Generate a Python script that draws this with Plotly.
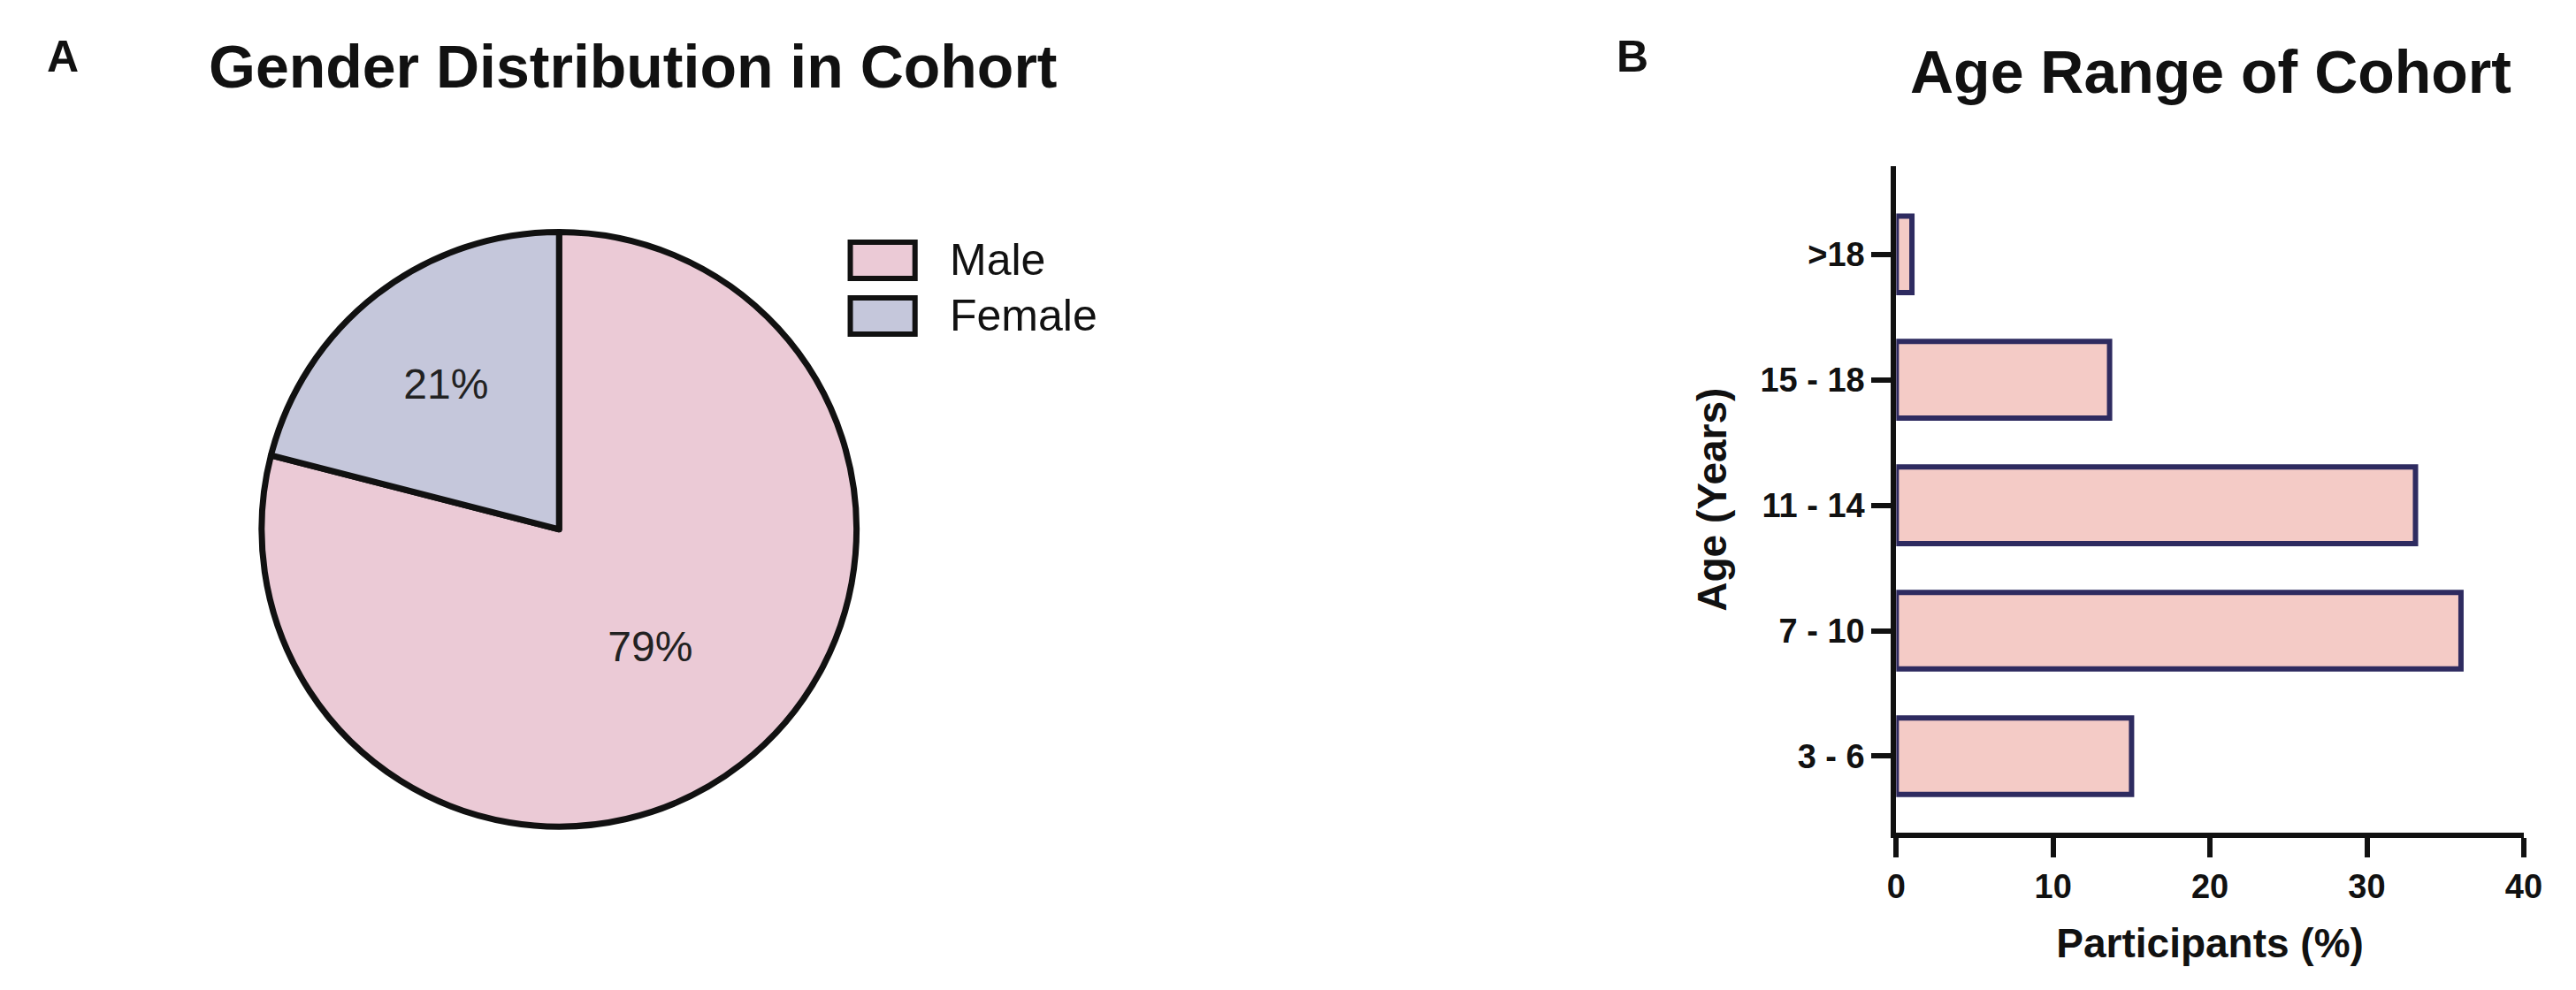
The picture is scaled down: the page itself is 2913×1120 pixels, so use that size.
import plotly.graph_objects as go

genders = ["Male", "Female"]
gender_pct = [79, 21]
gender_colors = ["#EBCAD6", "#C5C7DB"]
age_groups = ["3 - 6", "7 - 10", "11 - 14", "15 - 18", ">18"]
age_pct = [15.0, 36.0, 33.1, 13.6, 1.0]
x_ticks = [0, 10, 20, 30, 40]

FONT = "Liberation Sans, Arial, sans-serif"
W, H = 2913, 1120
fig = go.Figure()
fig.add_trace(go.Pie(
    labels=genders, values=gender_pct, sort=False, direction="clockwise", rotation=0,
    marker=dict(colors=gender_colors, line=dict(color="#111111", width=7)),
    texttemplate="%{percent:.0%}", textposition="inside", insidetextorientation="horizontal",
    textfont=dict(family=FONT, size=48, color="#222222"),
    domain=dict(x=[0.0961, 0.3296], y=[0.169, 0.776]), showlegend=False,
))
fig.add_trace(go.Bar(
    y=age_groups, x=age_pct, orientation="h", width=0.61,
    marker=dict(color="#F4CBC6", line=dict(color="#2E2B60", width=6)),
    xaxis="x", yaxis="y", showlegend=False,
))

shapes, annotations = [], []
# legend boxes (pixel positions converted to paper)
for i, (g, c) in enumerate(zip(genders, gender_colors)):
    top = 266 + i * 63
    shapes.append(dict(type="rect", xref="paper", yref="paper",
                       x0=953 / W, x1=1027 / W, y0=1 - (top + 41) / H, y1=1 - top / H,
                       fillcolor=c, line=dict(color="#111111", width=6)))
    annotations.append(dict(text=g, x=1065 / W, y=1 - (top + 20) / H, xref="paper", yref="paper",
                            xanchor="left", yanchor="middle", showarrow=False,
                            font=dict(family=FONT, size=50, color="#111111")))

annotations += [
    dict(text="<b>A</b>", x=0.018, y=0.95, xref="paper", yref="paper", showarrow=False,
         xanchor="center", yanchor="middle", font=dict(family=FONT, size=50)),
    dict(text="<b>Gender Distribution in Cohort</b>", x=0.242, y=0.94, xref="paper", yref="paper",
         xanchor="center", yanchor="middle", showarrow=False, font=dict(family=FONT, size=68)),
    dict(text="<b>B</b>", x=0.634, y=0.95, xref="paper", yref="paper", showarrow=False,
         xanchor="center", yanchor="middle", font=dict(family=FONT, size=50)),
    dict(text="<b>Age Range of Cohort</b>", x=0.861, y=0.935, xref="paper", yref="paper",
         xanchor="center", yanchor="middle", showarrow=False, font=dict(family=FONT, size=68)),
]

fig.update_layout(
    width=W, height=H, margin=dict(l=0, r=0, t=0, b=0),
    paper_bgcolor="white", plot_bgcolor="white",
    font=dict(family=FONT, color="#111111"),
    shapes=shapes, annotations=annotations,
    xaxis=dict(domain=[0.7377, 0.984], anchor="y", range=[0, 40], tickvals=x_ticks,
               showgrid=False, zeroline=False, showline=True, linecolor="#111111", linewidth=6,
               ticks="outside", ticklen=22, tickwidth=6, tickcolor="#111111",
               tickfont=dict(family=FONT, size=38, color="#111111", weight="bold"),
               title=dict(text="<b>Participants (%)</b>", font=dict(family=FONT, size=46), standoff=30)),
    yaxis=dict(domain=[0.166, 0.839], anchor="x", range=[-0.61, 4.7], type="category",
               showgrid=False, zeroline=False, showline=True, linecolor="#111111", linewidth=6,
               ticks="outside", ticklen=22, tickwidth=6, tickcolor="#111111",
               tickfont=dict(family=FONT, size=38, color="#111111", weight="bold"),
               title=dict(text="<b>Age (Years)</b>", font=dict(family=FONT, size=46), standoff=25)),
)
fig.write_html("out.html")
